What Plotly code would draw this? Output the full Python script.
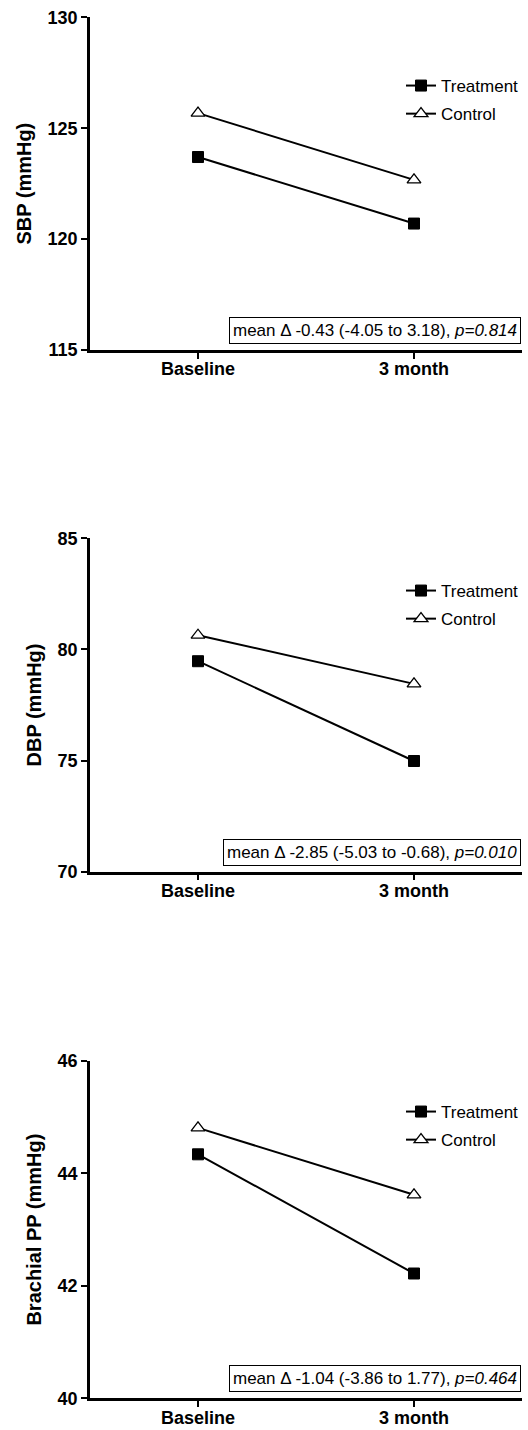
import plotly.graph_objects as go

categories = ["Baseline", "3 month"]

sbp_treatment = [123.7, 120.7]
sbp_control = [125.68, 122.67]

dbp_treatment = [79.47, 74.98]
dbp_control = [80.64, 78.45]

pp_treatment = [44.34, 42.22]
pp_control = [44.81, 43.62]

y_titles = ["SBP (mmHg)", "DBP (mmHg)", "Brachial PP (mmHg)"]
y_ranges = [[115, 130], [70, 85], [40, 46]]
y_dticks = [5, 5, 2]
stats_text = [
    "mean \u0394 -0.43 (-4.05 to 3.18), <i>p=0.814</i>",
    "mean \u0394 -2.85 (-5.03 to -0.68), <i>p=0.010</i>",
    "mean \u0394 -1.04 (-3.86 to 1.77), <i>p=0.464</i>",
]

W, H = 528, 1430
FONT = "Arial, Liberation Sans, sans-serif"

panels_px = [(17.3, 350.0), (538.3, 871.7), (1061.0, 1398.3)]
x_left, x_right = 90.0, 522.0
legend_top_px = [68, 573, 1094]

data_sets = [
    (sbp_treatment, sbp_control),
    (dbp_treatment, dbp_control),
    (pp_treatment, pp_control),
]

fig = go.Figure()
annotations = []
layout_kw = {}

for i, ((tr, ct), (top, bot)) in enumerate(zip(data_sets, panels_px)):
    n = "" if i == 0 else str(i + 1)
    xa = "x" + n
    ya = "y" + n
    lg = "legend" + n
    fig.add_trace(go.Scatter(
        x=categories, y=tr, name="Treatment", mode="lines+markers",
        xaxis=xa, yaxis=ya, legend=lg, legendgroup="t" + n,
        line=dict(color="black", width=2),
        marker=dict(symbol="square", size=11, color="black",
                    line=dict(color="black", width=1)),
    ))
    fig.add_trace(go.Scatter(
        x=categories, y=ct, name="Control", mode="lines+markers",
        xaxis=xa, yaxis=ya, legend=lg, legendgroup="c" + n,
        line=dict(color="black", width=2),
        marker=dict(symbol="triangle-up", size=12, color="white",
                    line=dict(color="black", width=1.3)),
    ))
    ydom = [1 - bot / H, 1 - top / H]
    layout_kw["xaxis" + n] = dict(
        domain=[x_left / W, x_right / W], anchor=ya,
        type="category", range=[-0.5, 1.5], automargin=False,
        showline=True, linecolor="black", linewidth=2.5,
        ticks="outside", ticklen=6, tickwidth=2, tickcolor="black",
        ticklabelstandoff=-5,
        tickfont=dict(family=FONT, size=18, color="black", weight="bold"),
        showgrid=False, zeroline=False, fixedrange=True,
    )
    layout_kw["yaxis" + n] = dict(
        domain=ydom, anchor=xa, range=y_ranges[i], dtick=y_dticks[i],
        automargin=False,
        showline=True, linecolor="black", linewidth=2.5,
        ticks="outside", ticklen=6, tickwidth=2, tickcolor="black",
        tickfont=dict(family=FONT, size=18, color="black", weight="bold"),
        title=dict(text=y_titles[i], standoff=11,
                   font=dict(family=FONT, size=20, color="black", weight="bold")),
        showgrid=False, zeroline=False, fixedrange=True,
    )
    layout_kw[lg] = dict(
        x=401 / W, xanchor="left", y=1 - legend_top_px[i] / H, yanchor="top",
        xref="paper", yref="paper",
        font=dict(family=FONT, size=17, color="black"),
        bgcolor="rgba(0,0,0,0)", traceorder="grouped", tracegroupgap=3,
    )
    annotations.append(dict(
        text=stats_text[i], xref="paper", yref="paper",
        x=521 / W, xanchor="right", y=1 - (bot - 6) / H, yanchor="bottom",
        showarrow=False, font=dict(family=FONT, size=17, color="black"),
        bordercolor="black", borderwidth=1, borderpad=3, bgcolor="white",
    ))

fig.update_layout(
    width=W, height=H, margin=dict(l=0, r=0, t=0, b=0, autoexpand=False),
    paper_bgcolor="white", plot_bgcolor="white",
    annotations=annotations, showlegend=True,
    **layout_kw,
)

fig.write_html(
    "out.html",
    config={"displayModeBar": False},
    post_script="document.body.style.margin='0';",
)
